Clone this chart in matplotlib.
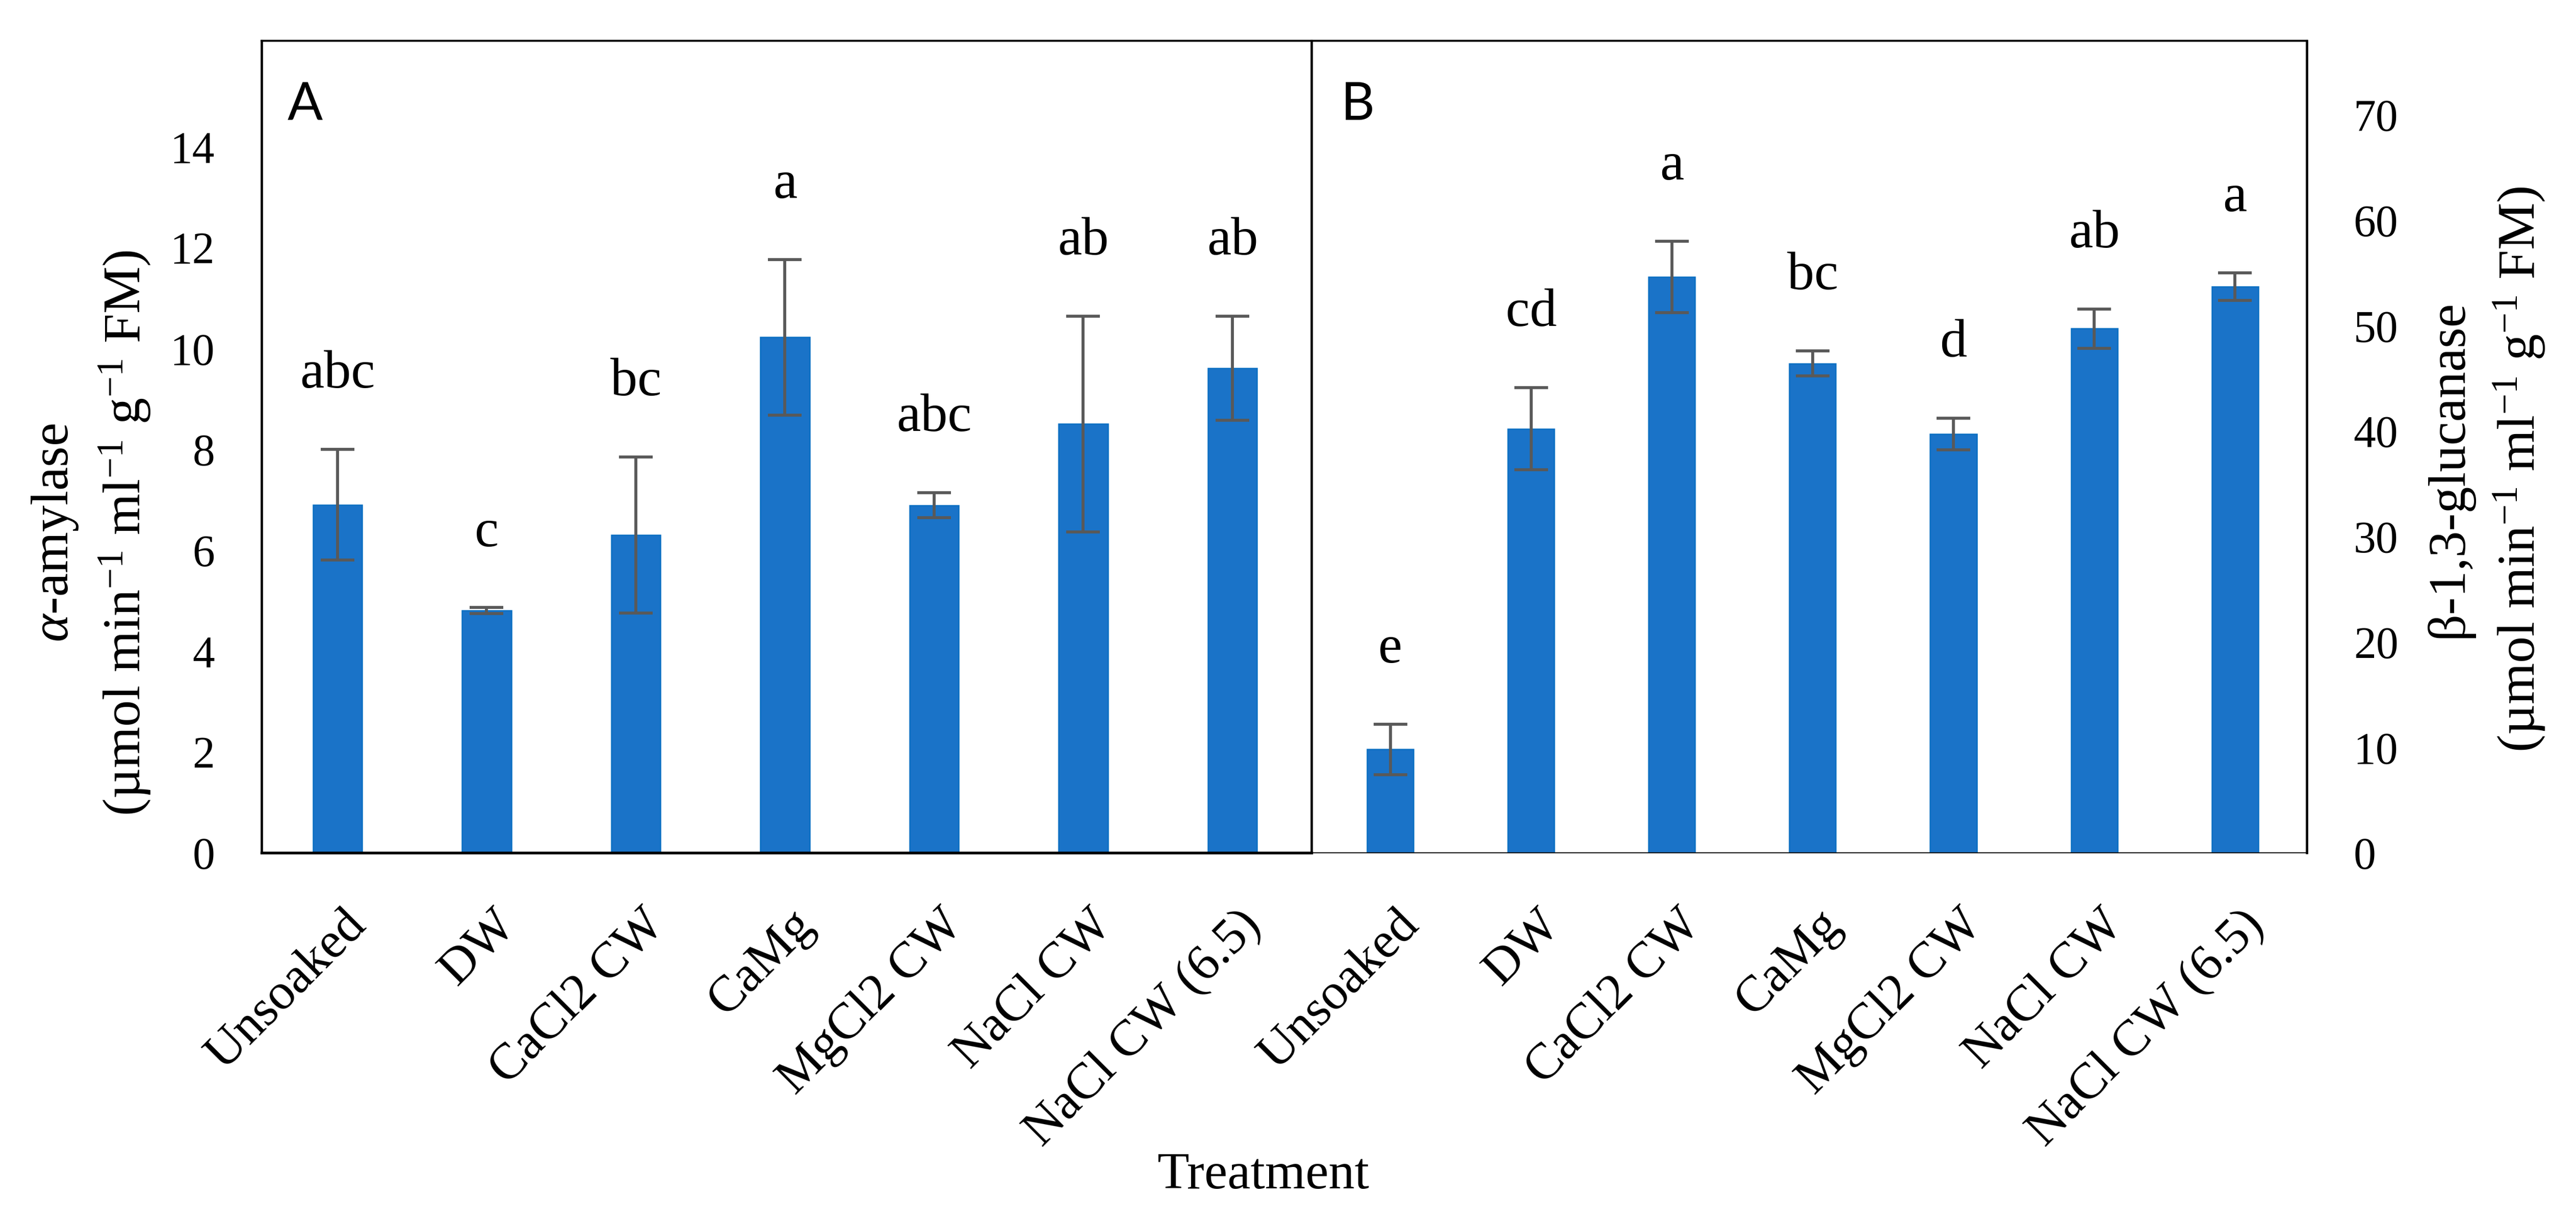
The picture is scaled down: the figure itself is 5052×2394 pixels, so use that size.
import matplotlib.pyplot as plt
from matplotlib.transforms import ScaledTranslation

plt.rcParams['font.family'] = ['Liberation Serif', 'DejaVu Serif']
plt.rcParams['mathtext.fontset'] = 'custom'
plt.rcParams['mathtext.rm'] = 'Liberation Serif'
plt.rcParams['mathtext.it'] = 'Liberation Serif:italic'

# treatments (same for both panels)
treatments = ['Unsoaked', 'DW', 'CaCl2 CW', 'CaMg', 'MgCl2 CW', 'NaCl CW', 'NaCl CW (6.5)']

# panel A: alpha-amylase
amylase = [6.9, 4.8, 6.3, 10.22, 6.89, 8.5, 9.61]
amylase_err = [1.1, 0.06, 1.55, 1.54, 0.25, 2.14, 1.03]
amylase_letters = ['abc', 'c', 'bc', 'a', 'abc', 'ab', 'ab']

# panel B: beta-1,3-glucanase
glucanase = [9.8, 40.2, 54.6, 46.4, 39.7, 49.7, 53.7]
glucanase_err = [2.4, 3.9, 3.4, 1.2, 1.5, 1.85, 1.3]
glucanase_letters = ['e', 'cd', 'a', 'bc', 'd', 'ab', 'a']

bar_color = '#1A73C8'
err_color = '#595959'

fig = plt.figure(figsize=(5052 / 300, 2394 / 300), dpi=300)
axA = fig.add_axes([0.1015, 0.3016, 0.4076, 0.665])
axB = fig.add_axes([0.5091, 0.3016, 0.3864, 0.665])
axB.patch.set_visible(False)  # keep panel A's right spine (the divider) whole


def draw(ax, vals, errs, letters, xlim, ylim, ticks):
    x = range(len(vals))
    ax.bar(x, vals, width=0.33, color=bar_color, edgecolor='#0A6FC2', linewidth=0.6, zorder=2)
    ax.errorbar(x, vals, yerr=errs, fmt='none', ecolor=err_color, elinewidth=1.4,
                capsize=8, capthick=1.4, zorder=3)
    for xi, v, e, lab in zip(x, vals, errs, letters):
        ax.annotate(lab, (xi, v + e), xytext=(0, 29), textcoords='offset points',
                    ha='center', va='baseline', fontsize=25.5)
    ax.set_xlim(*xlim)
    ax.set_ylim(*ylim)
    ax.set_yticks(ticks)
    ax.set_xticks(list(x))
    ax.set_xticklabels(treatments, rotation=45, ha='right', va='top',
                       rotation_mode='anchor', fontsize=24)
    ax.tick_params(length=0, labelsize=21, pad=22)
    ax.tick_params(axis='x', labelsize=24, pad=23)
    shift = ScaledTranslation(2.5 / 72, 0, fig.dpi_scale_trans)
    for t in ax.get_xticklabels():
        t.set_transform(t.get_transform() + shift)


draw(axA, amylase, amylase_err, amylase_letters, (-0.51, 6.53), (0, 16.1), range(0, 15, 2))
draw(axB, glucanase, glucanase_err, glucanase_letters, (-0.56, 6.51), (0, 77), range(0, 71, 10))

axB.yaxis.tick_right()

for sp in axA.spines.values():
    sp.set_linewidth(1.1)
axA.spines['top'].set_linewidth(0.9)
axA.spines['bottom'].set_linewidth(1.3)
axB.spines['left'].set_visible(False)
axB.spines['top'].set_linewidth(0.9)
axB.spines['right'].set_linewidth(1.1)
axB.spines['bottom'].set_linewidth(0.5)

axA.text(0.0248, 0.9026, 'A', transform=axA.transAxes, fontsize=24.5,
         family=['Lato', 'DejaVu Sans'], va='baseline')
axB.text(0.0297, 0.9026, 'B', transform=axB.transAxes, fontsize=24.5,
         family=['Lato', 'DejaVu Sans'], va='baseline')

unit = r'(µmol min$^{-1}$ ml$^{-1}$ g$^{-1}$ FM)'
fig.text(0.0214, 0.5635, r'$\alpha$-amylase', rotation=90, ha='center', va='center', fontsize=25)
fig.text(0.0485, 0.5635, unit, rotation=90, ha='center', va='center', fontsize=25)
fig.text(0.9507, 0.6157, 'β-1,3-glucanase', rotation=90, ha='center', va='center', fontsize=25)
fig.text(0.978, 0.6157, unit, rotation=90, ha='center', va='center', fontsize=25)

fig.text(0.4903, 0.0267, 'Treatment', ha='center', va='baseline', fontsize=24.5)

fig.savefig('out.png', dpi=300)
